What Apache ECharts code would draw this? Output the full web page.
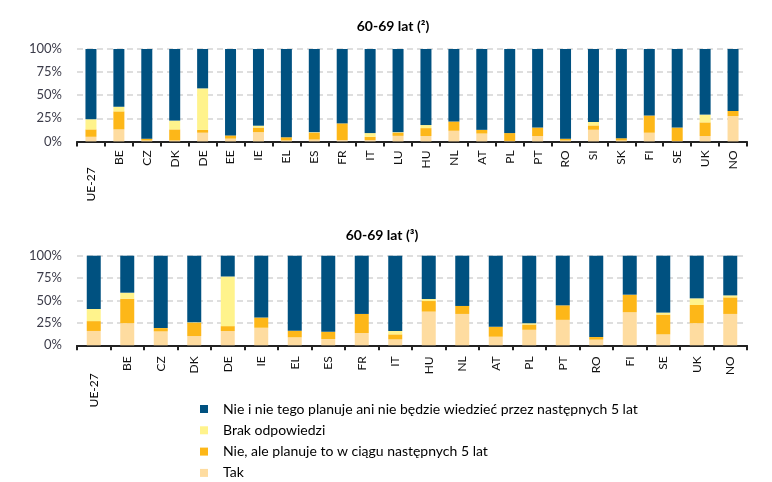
<!DOCTYPE html>
<html>
<head>
<meta charset="utf-8">
<script src="https://cdn.jsdelivr.net/npm/echarts@6/dist/echarts.min.js"></script>
<style>
  html, body { margin: 0; padding: 0; background: #ffffff; }
  #chart { width: 772px; height: 482px; }
</style>
</head>
<body>
<div id="chart"></div>
<script>
// ---- data ----
var titleTop = '60-69 lat (²)';
var titleBottom = '60-69 lat (³)';
var seriesNames = [
  'Tak',
  'Nie, ale planuje to w ciągu następnych 5 lat',
  'Brak odpowiedzi',
  'Nie i nie tego planuje ani nie będzie wiedzieć przez następnych 5 lat'
];
var legendOrder = [
  'Nie i nie tego planuje ani nie będzie wiedzieć przez następnych 5 lat',
  'Brak odpowiedzi',
  'Nie, ale planuje to w ciągu następnych 5 lat',
  'Tak'
];
var yTicks = [0, 25, 50, 75, 100];

var catsTop = ['UE-27','BE','CZ','DK','DE','EE','IE','EL','ES','FR','IT','LU','HU','NL','AT','PL','PT','RO','SI','SK','FI','SE','UK','NO'];
var takTop    = [5, 13, 1, 1, 9.4, 3, 10, 1, 2, 1.5, 1.5, 6, 5.8, 11.5, 8.5, 0.5, 5.8, 1, 12.6, 1, 9.4, 0.5, 5.8, 27.4];
var nieAleTop = [8, 19.5, 2, 12, 3, 3.5, 5, 3.5, 7.5, 18, 3.5, 3.5, 8.6, 10, 4, 8.5, 9.2, 2, 4.7, 2.5, 18.6, 14.5, 14.8, 5.5];
var brakTop   = [11, 5, 0, 9.5, 45, 0, 2, 0, 0.5, 0, 4, 0.5, 3.3, 0, 0, 0, 0, 0, 3.7, 0, 0, 0, 8.4, 0];
var nieTop    = [76, 62.5, 97, 77.5, 42.6, 93.5, 83, 95.5, 90, 80.5, 91, 90, 82.3, 78.5, 87.5, 91, 85, 97, 79, 96.5, 72, 85, 71, 67.1];

var catsBot = ['UE-27','BE','CZ','DK','DE','IE','EL','ES','FR','IT','HU','NL','AT','PL','PT','RO','FI','SE','UK','NO'];
var takBot    = [16, 24.7, 15.5, 10.3, 15.9, 19.6, 8.9, 7, 13.7, 6.6, 37.6, 35, 9.6, 17.3, 28.4, 6.3, 36.9, 12.2, 24.7, 35];
var nieAleBot = [11, 27.3, 3.7, 15, 5.5, 11.4, 7.3, 8.1, 21.3, 5.6, 11.8, 8.9, 11.1, 5.9, 16.2, 2.9, 19.6, 22.1, 20.3, 18.5];
var brakBot   = [13.5, 6.7, 0, 0.5, 55.4, 0, 0, 0, 0, 3.7, 2.3, 0, 0, 1.5, 0, 0, 0, 2.2, 7.4, 2.2];
var nieBot    = [59.5, 41.3, 80.8, 74.2, 23.2, 69, 83.8, 84.9, 65, 84.1, 48.3, 56.1, 79.3, 75.3, 55.4, 90.8, 43.5, 63.5, 47.6, 44.3];

// ---- styles ----
var colors = ['#FEDCA0', '#FDB718', '#FFF38C', '#005180'];
var FONT = 'Lato, "Liberation Sans", sans-serif';

function xAxis(gridIndex, cats, margin) {
  return {
    type: 'category', gridIndex: gridIndex, data: cats,
    axisLine: { lineStyle: { color: '#222222', width: 2 } },
    axisTick: { show: true, length: 5, lineStyle: { color: '#222222', width: 2 } },
    axisLabel: {
      rotate: 90, margin: margin, interval: 0, color: '#111111', fontSize: 12, fontFamily: FONT,
      formatter: function (v, i) { return i === 0 ? '{ue|' + v + '}' : v; },
      rich: { ue: { padding: [0, 17, 0, 0], fontSize: 12, fontFamily: FONT, color: '#000000' } }
    }
  };
}
function yAxis(gridIndex) {
  return {
    type: 'value', gridIndex: gridIndex, min: yTicks[0], max: yTicks[yTicks.length - 1], interval: 25,
    axisLine: { show: false }, axisTick: { show: false },
    axisLabel: { formatter: '{value}%', margin: 15, color: '#3c3c4a', fontSize: 13, fontFamily: FONT },
    splitLine: { show: true, lineStyle: { color: '#d4d4d4', width: 1.5, type: [6, 4] } }
  };
}
function barSeries(idx, values, stack, barWidth) {
  return values.map(function (arr, k) {
    return {
      name: seriesNames[k], type: 'bar', stack: stack, xAxisIndex: idx, yAxisIndex: idx,
      barWidth: barWidth, data: arr, itemStyle: { color: colors[k] }, silent: true
    };
  });
}

var chart = echarts.init(document.getElementById('chart'), null, { renderer: 'canvas' });
chart.setOption({
  animation: false,
  color: colors,
  graphic: [
    { type: 'text', x: 393, y: 26, style: { text: titleTop, textAlign: 'center', textVerticalAlign: 'middle', font: 'bold 14px ' + FONT, fill: '#000000' } },
    { type: 'text', x: 382, y: 235, style: { text: titleBottom, textAlign: 'center', textVerticalAlign: 'middle', font: 'bold 14px ' + FONT, fill: '#000000' } }
  ],
  legend: {
    data: legendOrder, orient: 'vertical', left: 195, top: 397, height: 90,
    itemWidth: 8, itemHeight: 8, itemGap: 7.3, icon: 'rect',
    selectedMode: false,
    textStyle: { fontSize: 14, fontFamily: FONT, color: '#000000', lineHeight: 14, padding: [0, 0, 0, 10] }
  },
  grid: [
    { left: 77, right: 25, top: 49, height: 92.4 },
    { left: 77, right: 25, top: 255.7, height: 89.6 }
  ],
  xAxis: [xAxis(0, catsTop, 9), xAxis(1, catsBot, 11)],
  yAxis: [yAxis(0), yAxis(1)],
  series: [].concat(
    barSeries(0, [takTop, nieAleTop, brakTop, nieTop], 'top', 11),
    barSeries(1, [takBot, nieAleBot, brakBot, nieBot], 'bot', 14)
  )
});
</script>
</body>
</html>
